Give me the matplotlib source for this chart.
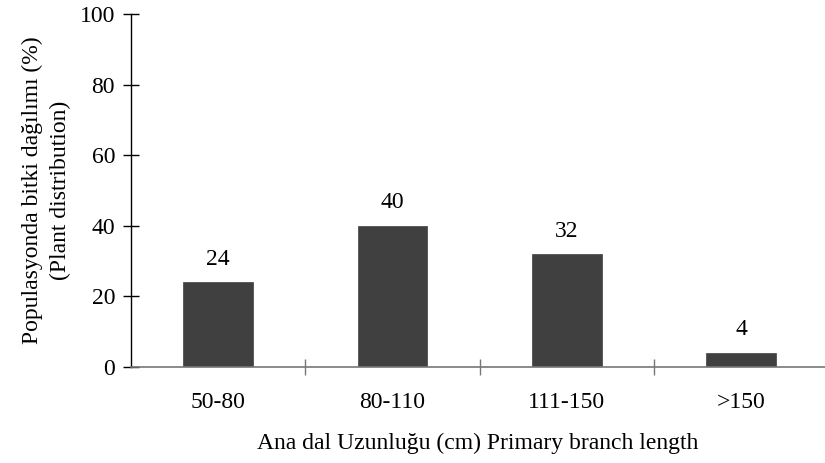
import matplotlib
matplotlib.use("Agg")
import matplotlib.pyplot as plt
import numpy as np

categories = ["50-80", "80-110", "111-150", ">150"]
values = [24, 40, 32, 4]
yticks = [0, 20, 40, 60, 80, 100]

plt.rcParams['font.family'] = ['Liberation Serif', 'DejaVu Serif']

fig = plt.figure(figsize=(8.25, 4.63), dpi=100)
ax = fig.add_axes([131/825, 1-367/463, 1-131/825, (367-14)/463])

x = np.arange(len(categories))
ax.bar(x, values, width=0.4, color='#404040', edgecolor='#404040', linewidth=0.5, zorder=2)
for xi, v in zip(x, values):
    ax.annotate(str(v), (xi, v), xytext=(0, 9), textcoords='offset points',
                ha='center', va='bottom', fontsize=17)

ax.set_xlim(-0.5, 3.48)
ax.set_ylim(0, 100)
ax.set_yticks(yticks)
ax.set_xticks(x)
ax.set_xticklabels(categories)
ax.set_xticks([0.5, 1.5, 2.5], minor=True)
ax.tick_params(axis='x', which='major', length=0, pad=18, labelsize=17)
ax.tick_params(axis='x', which='minor', direction='inout', length=11, width=1, color='#777777')
ax.tick_params(axis='y', direction='inout', length=11, width=1, pad=6, labelsize=17)
for s in ['top', 'right']:
    ax.spines[s].set_visible(False)
ax.spines['left'].set_linewidth(1)
ax.spines['bottom'].set_color('#777777')
ax.spines['bottom'].set_linewidth(1.2)

ax.set_ylabel("Populasyonda bitki dağılımı (%)\n(Plant distribution)", fontsize=17, linespacing=1.45, labelpad=6)
ax.set_xlabel("Ana dal Uzunluğu (cm) Primary branch length", fontsize=17, labelpad=14)

fig.savefig("out.png", dpi=100)
